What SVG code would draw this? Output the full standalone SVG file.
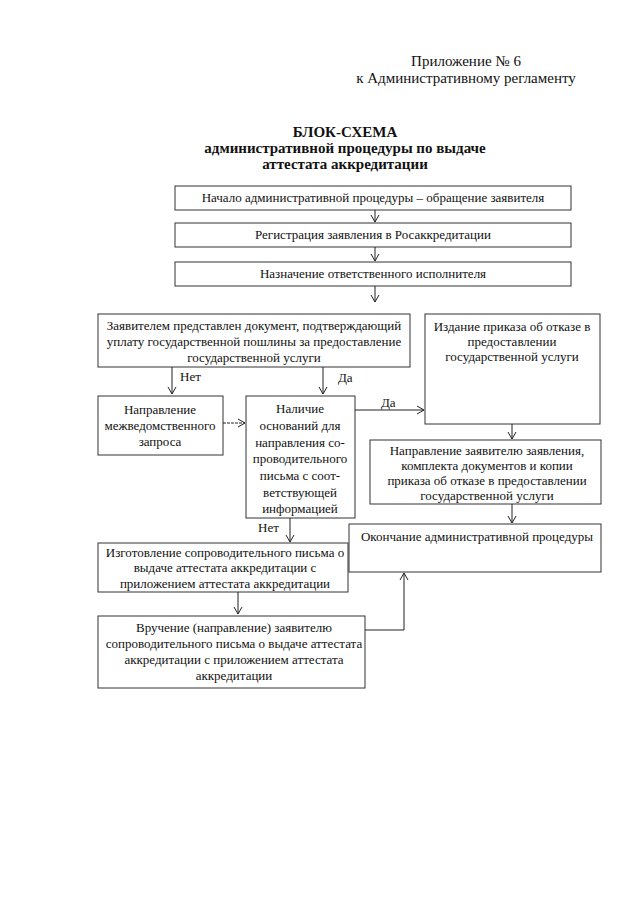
<svg xmlns="http://www.w3.org/2000/svg" width="640" height="905" viewBox="0 0 640 905">
<style>
.bg{fill:#fff}
.box{fill:#fff;stroke:#333;stroke-width:1}
.t{font-family:"Liberation Serif","Times New Roman",serif;font-size:13px;fill:#111;text-anchor:middle}
.h{font-family:"Liberation Serif","Times New Roman",serif;font-size:15px;fill:#111;text-anchor:middle}
.b{font-family:"Liberation Serif","Times New Roman",serif;font-size:15px;font-weight:bold;fill:#111;text-anchor:middle}
.c{fill:none;stroke:#222;stroke-width:1}
.lbl{font-family:"Liberation Serif","Times New Roman",serif;font-size:13px;fill:#111}
</style>
<defs>
<marker id="ar" markerWidth="10" markerHeight="10" refX="8" refY="5" orient="auto" markerUnits="userSpaceOnUse">
<polyline points="1,1 8,5 1,9" fill="none" stroke="#222" stroke-width="1"/>
</marker>
</defs>
<rect class="bg" x="0" y="0" width="640" height="905"/>
<g id="header">
<text class="h" x="466" y="66">Приложение № 6</text>
<text class="h" x="466" y="83">к Административному регламенту</text>
<text class="b" x="345" y="137">БЛОК-СХЕМА</text>
<text class="b" x="345" y="153">административной процедуры по выдаче</text>
<text class="b" x="345" y="169">аттестата аккредитации</text>
</g>
<g id="n1"><rect class="box" x="175" y="186" width="396" height="24"/><text class="t" x="373" y="202">Начало административной процедуры – обращение заявителя</text></g>
<g id="n2"><rect class="box" x="175" y="223" width="396" height="24"/><text class="t" x="373" y="239">Регистрация заявления в Росаккредитации</text></g>
<g id="n3"><rect class="box" x="175" y="262" width="396" height="24"/><text class="t" x="373" y="278">Назначение ответственного исполнителя</text></g>
<g id="n4"><rect class="box" x="98" y="314" width="312" height="53"/>
<text class="t" x="254" y="330">Заявителем представлен документ, подтверждающий</text>
<text class="t" x="254" y="346">уплату государственной пошлины за предоставление</text>
<text class="t" x="254" y="362">государственной услуги</text></g>
<g id="n5"><rect class="box" x="425" y="314" width="175" height="110"/>
<text class="t" x="512" y="331">Издание приказа об отказе в</text>
<text class="t" x="512" y="346">предоставлении</text>
<text class="t" x="512" y="361">государственной услуги</text></g>
<g id="n6"><rect class="box" x="98" y="396" width="125" height="59"/>
<text class="t" x="160" y="414">Направление</text>
<text class="t" x="160" y="430">межведомственного</text>
<text class="t" x="160" y="446">запроса</text></g>
<g id="n7"><rect class="box" x="246" y="396" width="109" height="122"/>
<text class="t" x="300" y="413">Наличие</text>
<text class="t" x="300" y="430">оснований для</text>
<text class="t" x="300" y="447">направления со-</text>
<text class="t" x="300" y="463">проводительного</text>
<text class="t" x="300" y="480">письма с соот-</text>
<text class="t" x="300" y="497">ветствующей</text>
<text class="t" x="300" y="513">информацией</text></g>
<g id="n8"><rect class="box" x="370" y="440" width="231" height="64"/>
<text class="t" x="487" y="455">Направление заявителю заявления,</text>
<text class="t" x="487" y="470">комплекта документов и копии</text>
<text class="t" x="487" y="485">приказа об отказе в предоставлении</text>
<text class="t" x="487" y="500">государственной услуги</text></g>
<g id="n9"><rect class="box" x="349" y="524" width="252" height="48"/>
<text class="t" x="477" y="541">Окончание административной процедуры</text></g>
<g id="n10"><rect class="box" x="98" y="543" width="250" height="49"/>
<text class="t" x="225" y="557">Изготовление сопроводительного письма о</text>
<text class="t" x="225" y="572">выдаче аттестата аккредитации с</text>
<text class="t" x="225" y="588">приложением аттестата аккредитации</text></g>
<g id="n11"><rect class="box" x="98" y="616" width="267" height="72"/>
<text class="t" x="234" y="632">Вручение (направление) заявителю</text>
<text class="t" x="234" y="648">сопроводительного письма о выдаче аттестата</text>
<text class="t" x="234" y="664">аккредитации с приложением аттестата</text>
<text class="t" x="234" y="680">аккредитации</text></g>
<g id="connectors">
<line class="c" x1="375" y1="210" x2="375" y2="222" marker-end="url(#ar)"/>
<line class="c" x1="375" y1="247" x2="375" y2="261" marker-end="url(#ar)"/>
<line class="c" x1="375" y1="286" x2="375" y2="302" marker-end="url(#ar)"/>
<line class="c" x1="172" y1="367" x2="172" y2="394" marker-end="url(#ar)"/>
<text class="lbl" x="180" y="381">Нет</text>
<line class="c" x1="323" y1="367" x2="323" y2="394" marker-end="url(#ar)"/>
<text class="lbl" x="338" y="382">Да</text>
<line class="c" x1="223" y1="423" x2="245" y2="423" stroke-dasharray="3,1" marker-end="url(#ar)"/>
<line class="c" x1="355" y1="410" x2="424" y2="410" marker-end="url(#ar)"/>
<text class="lbl" x="381" y="407">Да</text>
<line class="c" x1="512" y1="424" x2="512" y2="439" marker-end="url(#ar)"/>
<line class="c" x1="512" y1="504" x2="512" y2="523" marker-end="url(#ar)"/>
<line class="c" x1="290" y1="518" x2="290" y2="542" marker-end="url(#ar)"/>
<text class="lbl" x="258" y="532">Нет</text>
<line class="c" x1="238" y1="592" x2="238" y2="614" marker-end="url(#ar)"/>
<polyline class="c" points="365,630 404,630 404,573" marker-end="url(#ar)"/>
</g>
</svg>
